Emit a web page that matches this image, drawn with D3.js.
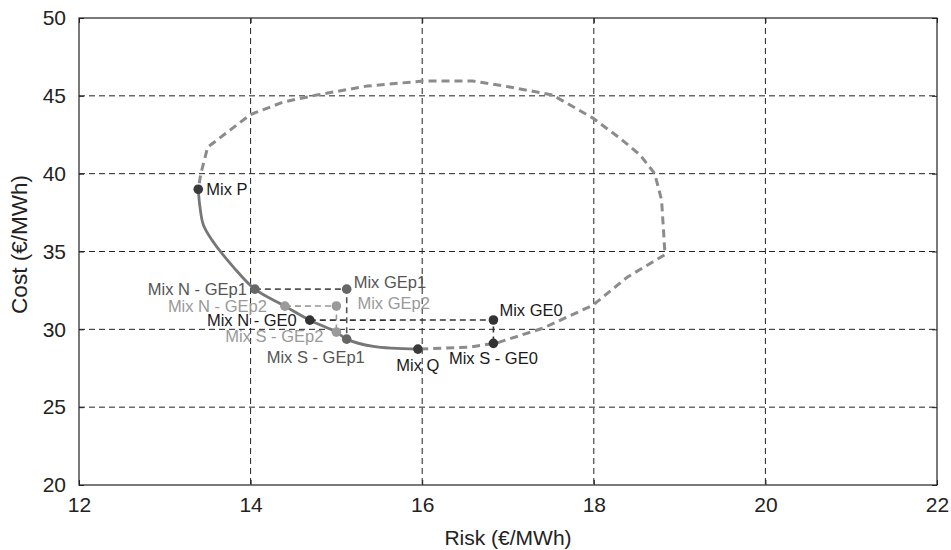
<!DOCTYPE html>
<html>
<head>
    <script src="https://cdnjs.cloudflare.com/ajax/libs/d3/7.8.5/d3.min.js"></script>
    <style>
        body { margin: 0; background: #fff; }
        svg { font-family: "Liberation Sans", Arial, sans-serif; }
        .grid line { stroke: #222; stroke-width: 1; stroke-dasharray: 6,4; }
        .frame { fill: none; stroke: #222; stroke-width: 1.2; }
        .tick-label { font-size: 21px; fill: #222; }
        .axis-title { fill: #222; }
        .mix-label { font-size: 16.5px; }
    </style>
</head>
<body>
<div id="chart"></div>
<script>
    // x = risk (€/MWh), y = cost (€/MWh)
    const xTicks = [12, 14, 16, 18, 20, 22];
    const yTicks = [20, 25, 30, 35, 40, 45, 50];

    // efficient frontier, Mix P -> Mix Q (solid)
    const efficientRisk = [13.39, 13.41, 13.45, 13.55, 13.80, 14.05, 14.40, 14.69, 15.00, 15.12, 15.43, 15.95];
    const efficientCost = [39.00, 37.85, 36.70, 35.73, 34.00, 32.58, 31.49, 30.59, 29.82, 29.37, 28.90, 28.73];

    // rest of the feasible set boundary (dashed), from Mix P round to Mix Q
    const boundaryRisk = [13.39, 13.42, 13.50, 13.76, 14.00, 14.38, 14.77, 14.96, 15.36, 16.01, 16.59, 17.02, 17.52, 17.99, 18.30, 18.54, 18.71, 18.79, 18.83, 18.39, 17.99, 17.41, 16.90, 16.83, 16.56, 15.95];
    const boundaryCost = [39.00, 40.00, 41.70, 42.80, 43.80, 44.60, 45.05, 45.24, 45.63, 45.95, 45.95, 45.57, 45.05, 43.57, 42.30, 41.20, 40.00, 38.30, 34.80, 33.35, 31.55, 30.08, 29.18, 29.10, 28.86, 28.73];

    // named mixes
    const mixNames = ["Mix P", "Mix N - GEp1", "Mix GEp1", "Mix S - GEp1", "Mix N - GEp2", "Mix GEp2", "Mix S - GEp2", "Mix N - GE0", "Mix GE0", "Mix S - GE0", "Mix Q"];
    const mixRisk = [13.39, 14.05, 15.12, 15.12, 14.40, 15.00, 15.00, 14.69, 16.83, 16.83, 15.95];
    const mixCost = [39.00, 32.58, 32.58, 29.37, 31.49, 31.50, 29.82, 30.59, 30.60, 29.10, 28.73];
    const mixGroup = ["base", "p1", "p1", "p1", "p2", "p2", "p2", "g0", "g0", "g0", "base"];

    // N -> GE -> S connector lines per scenario
    const connectors = [
        ["Mix N - GEp1", "Mix GEp1", "Mix S - GEp1"],
        ["Mix N - GEp2", "Mix GEp2", "Mix S - GEp2"],
        ["Mix N - GE0", "Mix GE0", "Mix S - GE0"]
    ];

    const dotColor = { base: "#3a3a3a", p1: "#666", p2: "#9a9a9a", g0: "#333" };
    const textColor = { base: "#1a1a1a", p1: "#555", p2: "#999", g0: "#1a1a1a" };
    const lineColor = { p1: "#555", p2: "#999", g0: "#333" };

    // label placement: [dx, dy, anchor]
    const labelPos = {
        "Mix P": [8, 0, "start"],
        "Mix N - GEp1": [-8, 0, "end"],
        "Mix GEp1": [7, -7, "start"],
        "Mix S - GEp1": [-31, 18, "middle"],
        "Mix N - GEp2": [-18, 0, "end"],
        "Mix GEp2": [21, -3, "start"],
        "Mix S - GEp2": [-13, 4, "end"],
        "Mix N - GE0": [-13, 0, "end"],
        "Mix GE0": [6, -10, "start"],
        "Mix S - GE0": [0, 15, "middle"],
        "Mix Q": [0, 16, "middle"]
    };

    const width = 951, height = 550;
    const margin = { top: 18, right: 14, bottom: 65, left: 79 };
    const w = width - margin.left - margin.right;
    const h = height - margin.top - margin.bottom;

    const svg = d3.select("#chart").append("svg")
        .attr("width", width)
        .attr("height", height);

    const g = svg.append("g").attr("transform", `translate(${margin.left},${margin.top})`);

    const x = d3.scaleLinear().domain([12, 22]).range([0, w]);
    const y = d3.scaleLinear().domain([20, 50]).range([h, 0]);

    // grid
    const grid = g.append("g").attr("class", "grid");
    grid.selectAll(".gx")
        .data(xTicks.slice(1, -1))
        .enter().append("line")
        .attr("x1", d => x(d)).attr("x2", d => x(d))
        .attr("y1", 0).attr("y2", h);
    grid.selectAll(".gy")
        .data(yTicks.slice(1, -1))
        .enter().append("line")
        .attr("x1", 0).attr("x2", w)
        .attr("y1", d => y(d)).attr("y2", d => y(d));

    // axes with inward ticks
    const axisB = g.append("g").attr("transform", `translate(0,${h})`)
        .call(d3.axisBottom(x).tickValues(xTicks).tickSize(-5).tickPadding(12));
    const axisT = g.append("g")
        .call(d3.axisTop(x).tickValues(xTicks).tickSize(-5).tickFormat(""));
    const axisL = g.append("g")
        .call(d3.axisLeft(y).tickValues(yTicks).tickSize(-5).tickPadding(13));
    const axisR = g.append("g").attr("transform", `translate(${w},0)`)
        .call(d3.axisRight(y).tickValues(yTicks).tickSize(-5).tickFormat(""));
    [axisB, axisT, axisL, axisR].forEach(a => {
        a.select(".domain").remove();
        a.selectAll(".tick line").attr("stroke", "#222");
        a.selectAll(".tick text").attr("class", "tick-label").attr("fill", "#222")
            .style("font-family", "'Liberation Sans', Arial, sans-serif");
    });

    g.append("rect").attr("class", "frame")
        .attr("x", 0).attr("y", 0).attr("width", w).attr("height", h);

    // axis titles
    svg.append("text").attr("class", "axis-title")
        .attr("x", margin.left + w / 2).attr("y", 545)
        .attr("text-anchor", "middle")
        .style("font-size", "21px")
        .text("Risk (€/MWh)");
    svg.append("text").attr("class", "axis-title")
        .attr("transform", `translate(27,${margin.top + h / 2 - 7}) rotate(-90)`)
        .attr("text-anchor", "middle")
        .style("font-size", "22.5px")
        .text("Cost (€/MWh)");

    const line = d3.line().x(d => x(d[0])).y(d => y(d[1]));

    // dashed boundary
    g.append("path")
        .datum(boundaryRisk.map((r, i) => [r, boundaryCost[i]]))
        .attr("d", line)
        .attr("fill", "none")
        .attr("stroke", "#8c8c8c")
        .attr("stroke-width", 3)
        .attr("stroke-dasharray", "8,5")
        .attr("stroke-dashoffset", -6);

    // solid efficient frontier
    g.append("path")
        .datum(efficientRisk.map((r, i) => [r, efficientCost[i]]))
        .attr("d", line.curve(d3.curveCatmullRom))
        .attr("fill", "none")
        .attr("stroke", "#777")
        .attr("stroke-width", 2.8);

    const mixes = mixNames.map((n, i) => ({ name: n, risk: mixRisk[i], cost: mixCost[i], group: mixGroup[i] }));
    const byName = {};
    mixes.forEach(m => byName[m.name] = m);

    // connectors
    connectors.forEach(c => {
        const pts = c.map(n => byName[n]);
        g.append("path")
            .datum(pts.map(p => [p.risk, p.cost]))
            .attr("d", d3.line().x(d => x(d[0])).y(d => y(d[1])))
            .attr("fill", "none")
            .attr("stroke", lineColor[pts[0].group])
            .attr("stroke-width", 1.6)
            .attr("stroke-dasharray", "6,4");
    });

    // dots
    g.selectAll(".mix")
        .data(mixes)
        .enter().append("circle")
        .attr("cx", d => x(d.risk))
        .attr("cy", d => y(d.cost))
        .attr("r", 4.8)
        .attr("fill", d => dotColor[d.group]);

    // labels
    g.selectAll(".mix-label")
        .data(mixes)
        .enter().append("text")
        .attr("class", "mix-label")
        .attr("x", d => x(d.risk) + labelPos[d.name][0])
        .attr("y", d => y(d.cost) + labelPos[d.name][1])
        .attr("dy", "0.35em")
        .attr("text-anchor", d => labelPos[d.name][2])
        .attr("fill", d => textColor[d.group])
        .text(d => d.name);
</script>
</body>
</html>
